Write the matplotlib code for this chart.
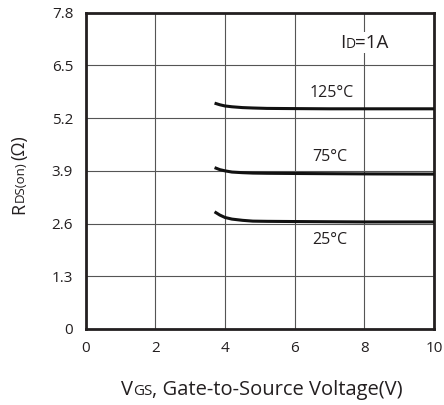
import matplotlib
matplotlib.use("Agg")
import matplotlib.pyplot as plt
from matplotlib.offsetbox import TextArea, HPacker, AnnotationBbox

plt.rcParams['font.family'] = ['Open Sans', 'DejaVu Sans']

# Gate voltage samples and on-resistance per junction temperature
vgs = [3.7, 3.85, 4.0, 4.2, 4.5, 4.8, 5.2, 6.0, 7.0, 8.0, 10.0]
r_25 = [2.89, 2.81, 2.75, 2.71, 2.68, 2.66, 2.655, 2.65, 2.645, 2.64, 2.64]
r_75 = [3.98, 3.93, 3.90, 3.87, 3.855, 3.845, 3.84, 3.835, 3.83, 3.825, 3.82]
r_125 = [5.57, 5.53, 5.50, 5.48, 5.46, 5.45, 5.44, 5.435, 5.43, 5.43, 5.43]

curve_labels = ["25°C", "75°C", "125°C"]
label_pos = [(7.0, 2.2), (7.0, 4.25), (7.05, 5.83)]

x_ticks = [0, 2, 4, 6, 8, 10]
y_ticks = [0, 1.3, 2.6, 3.9, 5.2, 6.5, 7.8]

INK = "#231f20"

fig = plt.figure(figsize=(4.44, 4.05), dpi=100)
ax = fig.add_axes([85.7 / 444, 1 - 329 / 405, (434 - 85.7) / 444, (329 - 12.7) / 405])

ax.set_xlim(0, 10)
ax.set_ylim(0, 7.8)
ax.set_xticks(x_ticks)
ax.set_yticks(y_ticks)
ax.set_xticklabels([str(v) for v in x_ticks])
ax.set_yticklabels(["0", "1.3", "2.6", "3.9", "5.2", "6.5", "7.8"])
ax.tick_params(length=0, labelsize=11, colors=INK)
ax.tick_params(axis="x", pad=9)
ax.tick_params(axis="y", pad=9)
ax.grid(True, color="#555555", lw=0.8)
ax.set_axisbelow(True)
for s in ax.spines.values():
    s.set_linewidth(2.0)
    s.set_color(INK)

for r in (r_25, r_75, r_125):
    ax.plot(vgs, r, color="#111111", lw=2.2, solid_capstyle="butt", zorder=3)

for txt, (x, y) in zip(curve_labels, label_pos):
    ax.text(x, y, txt, ha="center", va="center", fontsize=11.5, color=INK,
            bbox=dict(facecolor="white", edgecolor="none", pad=0.5), zorder=2)


def mixed(parts):
    boxes = [TextArea(t, textprops=dict(fontsize=fs, color=INK)) for t, fs in parts]
    return HPacker(children=boxes, align="baseline", pad=0, sep=0)


# Drain current note
note = mixed([("I", 13.5), ("D", 10), ("=1A", 13.5)])
ab = AnnotationBbox(note, (8.0, 7.06), xycoords="data", frameon=True, pad=0.1,
                    bboxprops=dict(facecolor="white", edgecolor="none"), zorder=4)
ax.add_artist(ab)

# X axis title
xl = mixed([("V", 14.5), ("GS", 11), (", Gate-to-Source Voltage(V)", 14.5)])
ab = AnnotationBbox(xl, (262 / 444, 1 - 390 / 405), xycoords="figure fraction",
                    frameon=False)
fig.add_artist(ab)

# Y axis title, rotated pieces sharing one baseline
base_x = 24 / 444
for txt, fs, ystart in [("R", 13, 214), ("DS(on)", 9.5, 202), ("(Ω)", 13, 160)]:
    fig.text(base_x, 1 - ystart / 405, txt, rotation=90, rotation_mode="anchor",
             fontsize=fs, ha="left", va="baseline", color=INK)

fig.savefig("out.png", dpi=100, facecolor="white")
